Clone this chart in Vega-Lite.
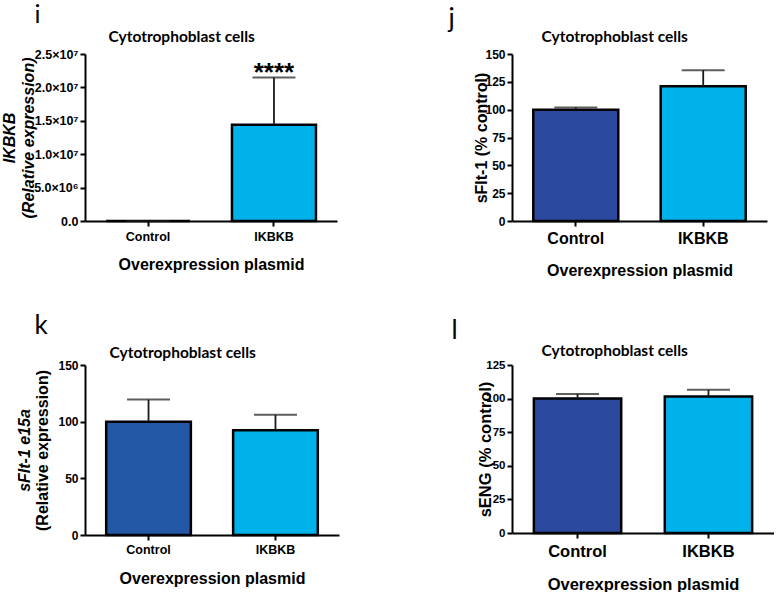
{
  "$schema": "https://vega.github.io/schema/vega-lite/v6.json",
  "background": "white",
  "padding": {"top": 2, "left": 0, "right": 0, "bottom": 0},
  "datasets": {
    "i": [
      {"group": "Control", "value": 1, "hi": 1, "sig": ""},
      {"group": "IKBKB", "value": 14400000, "hi": 21500000, "sig": "****"}
    ],
    "j": [
      {"group": "Control", "value": 100, "hi": 102},
      {"group": "IKBKB", "value": 121, "hi": 135.5}
    ],
    "k": [
      {"group": "Control", "value": 100, "hi": 119.5},
      {"group": "IKBKB", "value": 92.5, "hi": 106}
    ],
    "l": [
      {"group": "Control", "value": 100, "hi": 103.5},
      {"group": "IKBKB", "value": 101.5, "hi": 106.5}
    ]
  },
  "config": {
    "view": {"stroke": null},
    "axis": {
      "grid": false,
      "domainColor": "black",
      "domainWidth": 2,
      "tickColor": "black",
      "tickWidth": 2,
      "tickSize": 5,
      "labelColor": "black",
      "labelFont": "Liberation Sans",
      "labelFontWeight": "bold",
      "titleColor": "black",
      "titleFont": "Liberation Sans",
      "titleFontWeight": "bold"
    }
  },
  "spacing": 311,
  "bounds": "flush",
  "resolve": {"scale": {"x": "independent", "y": "independent"}},
  "vconcat": [
    {
      "spacing": 175,
      "bounds": "flush",
      "resolve": {"scale": {"x": "independent", "y": "independent"}},
      "hconcat": [
        {
          "width": 252,
          "height": 167,
          "data": {"name": "i"},
          "resolve": {"axis": {"x": "independent", "y": "independent"}},
          "layer": [
            {
              "mark": {"type": "bar", "stroke": "black", "strokeWidth": 2.5},
              "encoding": {
                "x": {"field": "group", "type": "nominal", "sort": ["Control", "IKBKB"],
                  "scale": {"paddingInner": 0.333, "paddingOuter": 0.167},
                  "axis": {"orient": "bottom", "title": "Overexpression plasmid", "titleFontSize": 16, "titleY": 43, "titleBaseline": "middle", "labelAngle": 0, "labelFontSize": 12.5, "labelBaseline": "middle", "labelPadding": 10}},
                "y": {"field": "value", "type": "quantitative", "scale": {"domain": [0, 25000000], "nice": false},
                  "axis": {"orient": "left", "title": ["IKBKB", "(Relative expression)"], "titleFontStyle": "italic", "titleFontSize": 16, "titleLineHeight": 19, "titleX": -76, "titleBaseline": "middle",
                    "values": [0, 5000000, 10000000, 15000000, 20000000, 25000000],
                    "labelExpr": "datum.value == 0 ? '0.0' : (datum.value < 10000000 ? format(datum.value/1000000, '.1f') + '×10⁶' : format(datum.value/10000000, '.1f') + '×10⁷')",
                    "labelFontSize": 12.5, "labelPadding": 2}},
                "color": {"condition": {"test": "datum.group === 'Control'", "value": "#2B4A9F"}, "value": "#00B2EA"}
              }
            },
            {
              "mark": {"type": "rule", "color": "#1a1a1a", "strokeWidth": 1.8},
              "encoding": {
                "x": {"field": "group", "type": "nominal", "sort": ["Control", "IKBKB"],
                  "axis": {"orient": "top", "title": "i", "labels": false, "ticks": false, "domain": false, "titleX": -51, "titleY": -32, "titleAlign": "left", "titleBaseline": "alphabetic", "titleAngle": 0, "titleFont": "Lato", "titleFontSize": 25, "titleFontWeight": "normal"}},
                "y": {"field": "value", "type": "quantitative", "axis": null},
                "y2": {"field": "hi"}
              }
            },
            {
              "mark": {"type": "tick", "color": "#1a1a1a", "thickness": 2, "size": 43},
              "encoding": {
                "x": {"field": "group", "type": "nominal", "sort": ["Control", "IKBKB"],
                  "axis": {"orient": "top", "title": "Cytotrophoblast cells", "labels": false, "ticks": false, "domain": false, "titleX": 23, "titleY": -13, "titleAlign": "left", "titleBaseline": "alphabetic", "titleAngle": 0, "titleFont": "Lato", "titleFontSize": 15.5, "titleFontWeight": "bold"}},
                "y": {"field": "hi", "type": "quantitative", "axis": null}
              }
            },
            {
              "mark": {"type": "text", "font": "Liberation Sans", "fontWeight": "bold", "fontSize": 26, "baseline": "alphabetic", "dy": 4, "color": "black"},
              "encoding": {
                "x": {"field": "group", "type": "nominal", "sort": ["Control", "IKBKB"], "axis": null},
                "y": {"field": "hi", "type": "quantitative", "axis": null},
                "text": {"field": "sig"}
              }
            }
          ]
        },
        {
          "width": 255,
          "height": 167,
          "data": {"name": "j"},
          "resolve": {"axis": {"x": "independent", "y": "independent"}},
          "layer": [
            {
              "mark": {"type": "bar", "stroke": "black", "strokeWidth": 2.5},
              "encoding": {
                "x": {"field": "group", "type": "nominal", "sort": ["Control", "IKBKB"],
                  "scale": {"paddingInner": 0.333, "paddingOuter": 0.167},
                  "axis": {"orient": "bottom", "title": "Overexpression plasmid", "titleFontSize": 16, "titleY": 49, "titleBaseline": "middle", "labelAngle": 0, "labelFontSize": 16, "labelBaseline": "middle", "labelPadding": 12}},
                "y": {"field": "value", "type": "quantitative", "scale": {"domain": [0, 150], "nice": false},
                  "axis": {"orient": "left", "title": "sFlt-1 (% control)", "titleFontSize": 16, "titleX": -31, "titleBaseline": "middle",
                    "values": [0, 25, 50, 75, 100, 125, 150], "labelFontSize": 12, "labelPadding": 2}},
                "color": {"condition": {"test": "datum.group === 'Control'", "value": "#2B4A9F"}, "value": "#00B2EA"}
              }
            },
            {
              "mark": {"type": "rule", "color": "#1a1a1a", "strokeWidth": 1.8},
              "encoding": {
                "x": {"field": "group", "type": "nominal", "sort": ["Control", "IKBKB"],
                  "axis": {"orient": "top", "title": "j", "labels": false, "ticks": false, "domain": false, "titleX": -64, "titleY": -28, "titleAlign": "left", "titleBaseline": "alphabetic", "titleAngle": 0, "titleFont": "Lato", "titleFontSize": 26, "titleFontWeight": "normal"}},
                "y": {"field": "value", "type": "quantitative", "axis": null},
                "y2": {"field": "hi"}
              }
            },
            {
              "mark": {"type": "tick", "color": "#1a1a1a", "thickness": 2, "size": 43},
              "encoding": {
                "x": {"field": "group", "type": "nominal", "sort": ["Control", "IKBKB"],
                  "axis": {"orient": "top", "title": "Cytotrophoblast cells", "labels": false, "ticks": false, "domain": false, "titleX": 29, "titleY": -13, "titleAlign": "left", "titleBaseline": "alphabetic", "titleAngle": 0, "titleFont": "Lato", "titleFontSize": 15.5, "titleFontWeight": "bold"}},
                "y": {"field": "hi", "type": "quantitative", "axis": null}
              }
            }
          ]
        }
      ]
    },
    {
      "spacing": 173,
      "bounds": "flush",
      "resolve": {"scale": {"x": "independent", "y": "independent"}},
      "hconcat": [
        {
          "width": 254,
          "height": 170,
          "data": {"name": "k"},
          "resolve": {"axis": {"x": "independent", "y": "independent"}},
          "layer": [
            {
              "mark": {"type": "bar", "stroke": "black", "strokeWidth": 2.5},
              "encoding": {
                "x": {"field": "group", "type": "nominal", "sort": ["Control", "IKBKB"],
                  "scale": {"paddingInner": 0.333, "paddingOuter": 0.167},
                  "axis": {"orient": "bottom", "title": "Overexpression plasmid", "titleFontSize": 16, "titleY": 43, "titleBaseline": "middle", "labelAngle": 0, "labelFontSize": 12.5, "labelBaseline": "middle", "labelPadding": 9}},
                "y": {"field": "value", "type": "quantitative", "scale": {"domain": [0, 150], "nice": false},
                  "axis": {"orient": "left", "title": "(Relative expression)", "titleFontSize": 16, "titleX": -43, "titleBaseline": "middle",
                    "values": [0, 50, 100, 150], "labelFontSize": 12, "labelPadding": 2}},
                "color": {"condition": {"test": "datum.group === 'Control'", "value": "#2358A6"}, "value": "#00B2EA"}
              }
            },
            {
              "mark": {"type": "rule", "color": "#1a1a1a", "strokeWidth": 1.8},
              "encoding": {
                "x": {"field": "group", "type": "nominal", "sort": ["Control", "IKBKB"],
                  "axis": {"orient": "top", "title": "k", "labels": false, "ticks": false, "domain": false, "titleX": -51, "titleY": -32, "titleAlign": "left", "titleBaseline": "alphabetic", "titleAngle": 0, "titleFont": "Lato", "titleFontSize": 26, "titleFontWeight": "normal"}},
                "y": {"field": "value", "type": "quantitative", "axis": null},
                "y2": {"field": "hi"}
              }
            },
            {
              "mark": {"type": "tick", "color": "#1a1a1a", "thickness": 2, "size": 43},
              "encoding": {
                "x": {"field": "group", "type": "nominal", "sort": ["Control", "IKBKB"],
                  "axis": {"orient": "top", "title": "Cytotrophoblast cells", "labels": false, "ticks": false, "domain": false, "titleX": 24, "titleY": -8, "titleAlign": "left", "titleBaseline": "alphabetic", "titleAngle": 0, "titleFont": "Lato", "titleFontSize": 15.5, "titleFontWeight": "bold"}},
                "y": {"field": "hi", "type": "quantitative",
                  "axis": {"orient": "left", "title": "sFlt-1 e15a", "titleFontStyle": "italic", "titleFontSize": 16, "titleX": -61, "titleBaseline": "middle", "labels": false, "ticks": false, "domain": false}}
              }
            }
          ]
        },
        {
          "width": 262,
          "height": 168,
          "data": {"name": "l"},
          "resolve": {"axis": {"x": "independent", "y": "independent"}},
          "layer": [
            {
              "mark": {"type": "bar", "stroke": "black", "strokeWidth": 2.5},
              "encoding": {
                "x": {"field": "group", "type": "nominal", "sort": ["Control", "IKBKB"],
                  "scale": {"paddingInner": 0.333, "paddingOuter": 0.167},
                  "axis": {"orient": "bottom", "title": "Overexpression plasmid", "titleFontSize": 16.5, "titleY": 51, "titleBaseline": "middle", "labelAngle": 0, "labelFontSize": 16.5, "labelBaseline": "middle", "labelPadding": 13}},
                "y": {"field": "value", "type": "quantitative", "scale": {"domain": [0, 125], "nice": false},
                  "axis": {"orient": "left", "title": "sENG (% control)", "titleFontSize": 16.5, "titleX": -27, "titleBaseline": "middle",
                    "values": [0, 25, 50, 75, 100, 125], "labelFontSize": 11.5, "labelPadding": 2}},
                "color": {"condition": {"test": "datum.group === 'Control'", "value": "#2B4A9F"}, "value": "#00B2EA"}
              }
            },
            {
              "mark": {"type": "rule", "color": "#1a1a1a", "strokeWidth": 1.8},
              "encoding": {
                "x": {"field": "group", "type": "nominal", "sort": ["Control", "IKBKB"],
                  "axis": {"orient": "top", "title": "l", "labels": false, "ticks": false, "domain": false, "titleX": -61, "titleY": -27, "titleAlign": "left", "titleBaseline": "alphabetic", "titleAngle": 0, "titleFont": "Lato", "titleFontSize": 26, "titleFontWeight": "normal"}},
                "y": {"field": "value", "type": "quantitative", "axis": null},
                "y2": {"field": "hi"}
              }
            },
            {
              "mark": {"type": "tick", "color": "#1a1a1a", "thickness": 2, "size": 43},
              "encoding": {
                "x": {"field": "group", "type": "nominal", "sort": ["Control", "IKBKB"],
                  "axis": {"orient": "top", "title": "Cytotrophoblast cells", "labels": false, "ticks": false, "domain": false, "titleX": 29, "titleY": -10, "titleAlign": "left", "titleBaseline": "alphabetic", "titleAngle": 0, "titleFont": "Lato", "titleFontSize": 15.5, "titleFontWeight": "bold"}},
                "y": {"field": "hi", "type": "quantitative", "axis": null}
              }
            }
          ]
        }
      ]
    }
  ]
}
